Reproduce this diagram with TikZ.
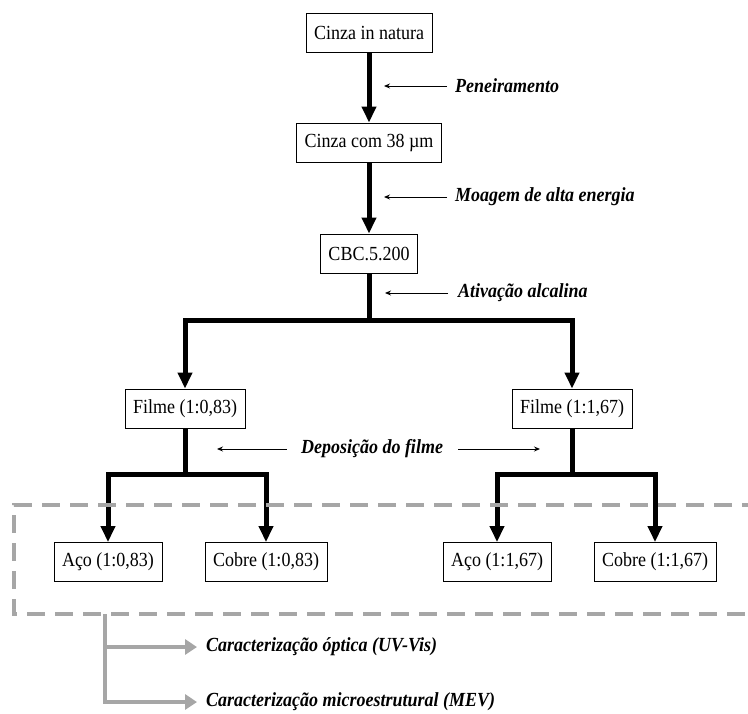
\documentclass[tikz,border=0pt]{standalone}
\usepackage{fontspec}
\setmainfont{Liberation Serif}[FakeStretch=0.9]
\usepackage{tikz}
\usetikzlibrary{positioning,arrows.meta,calc}
\definecolor{framegray}{HTML}{A6A6A6}

\begin{document}
\begin{tikzpicture}[x=1bp, y=-1bp,
    every node/.style={font=\fontsize{20bp}{23bp}\selectfont},
    stagebox/.style={draw=black, line width=0.9bp, rectangle, inner xsep=8bp,
                     minimum height=39bp, fill=white, align=center},
    steplabel/.style={font=\fontsize{20bp}{23bp}\selectfont\bfseries\itshape,
                      inner sep=0pt},
    trunk/.style={line width=5bp, color=black},
    farrow/.style={trunk, -{Triangle[width=14bp,length=16bp]}},
    larrow/.style={line width=0.9bp, -{Stealth[length=6bp,width=5bp]}},
    garrow/.style={line width=4.5bp, color=framegray, -{Triangle[width=15bp,length=12bp]}},
    dashframe/.style={draw=framegray, line width=4bp, dash pattern=on 18bp off 10bp}
]
\useasboundingbox (0,0) rectangle (748,714);

% --- Process chain ---
\node[stagebox] (raw)    at (369,32.5)  {Cinza in natura};
\node[stagebox] (sieved) at (369,142.5) {Cinza com 38 µm};
\node[stagebox] (cbc)    at (369,253.5) {CBC.5.200};

\node[stagebox] (filmA) at (185,408.5) {Filme (1:0,83)};
\node[stagebox] (filmB) at (572,408.5) {Filme (1:1,67)};

\node[stagebox] (acoA)   at (108,562) {Aço (1:0,83)};
\node[stagebox] (cobreA) at (266,562) {Cobre (1:0,83)};
\node[stagebox] (acoB)   at (497,562) {Aço (1:1,67)};
\node[stagebox] (cobreB) at (655,562) {Cobre (1:1,67)};

\coordinate (fork)  at (369,320);
\coordinate (forkA) at (185,474);
\coordinate (forkB) at (572,474);

\draw[farrow] (raw) -- (sieved);
\draw[farrow] (sieved) -- (cbc);
\draw[trunk] (cbc) -- (fork);
\draw[farrow] (fork) -| (filmA);
\draw[farrow] (fork) -| (filmB);

\draw[trunk] (filmA) -- (forkA);
\draw[farrow] (forkA) -| (acoA);
\draw[farrow] (forkA) -| (cobreA);
\draw[trunk] (filmB) -- (forkB);
\draw[farrow] (forkB) -| (acoB);
\draw[farrow] (forkB) -| (cobreB);

% --- Step labels ---
\node[steplabel, anchor=west] (pen)  at (455,86)  {Peneiramento};
\node[steplabel, anchor=west] (moag) at (455,197) {Moagem de alta energia};
\node[steplabel, anchor=west] (ativ) at (458,293) {Ativação alcalina};
\node[steplabel] (dep) at (372,449) {Deposição do filme};

\draw[larrow, shorten <=8bp, shorten >=15bp] (pen.west)  -- (pen.west -| raw.south);
\draw[larrow, shorten <=8bp, shorten >=15bp] (moag.west) -- (moag.west -| sieved.south);
\draw[larrow, shorten <=10bp, shorten >=16bp] (ativ.west) -- (ativ.west -| cbc.south);
\draw[larrow, shorten <=14bp, shorten >=32bp] (dep.west) -- (dep.west -| filmA.south);
\draw[larrow, shorten <=15bp, shorten >=32bp] (dep.east) -- (dep.east -| filmB.south);

% --- Samples frame and characterization ---
\draw[dashframe] (760,505) -| (14,614) -- (760,614);

\node[steplabel, anchor=west] (uv)  at (206,647) {Caracterização óptica (UV-Vis)};
\node[steplabel, anchor=west] (mev) at (206,702) {Caracterização microestrutural (MEV)};

\coordinate (charroot) at (105,614);
\draw[garrow, shorten >=9bp] (charroot) |- (uv.west);
\draw[garrow, shorten >=9bp] (charroot) |- (mev.west);

\end{tikzpicture}
\end{document}
